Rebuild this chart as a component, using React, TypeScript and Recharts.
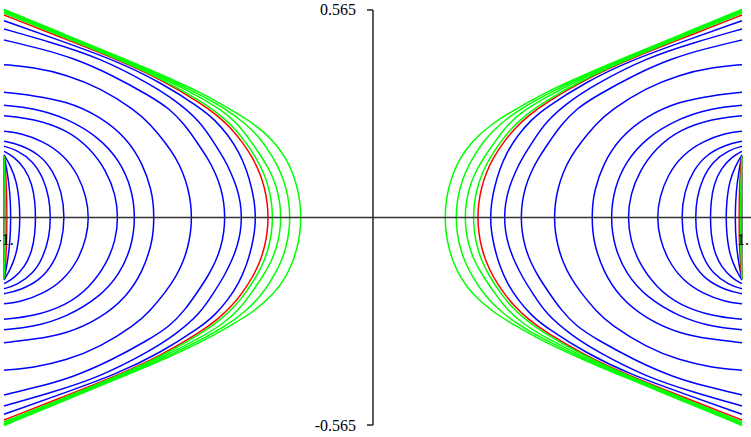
import React from "react";
import { LineChart, Line, XAxis, YAxis, ReferenceLine } from "recharts";

type P = [number, number];

// Each array: upper-left quarter of a curve, from the left edge (x = -1) down to its vertex on y = 0.
const greenOuter4: P[] = [[-1, 0.5663], [-0.8482, 0.5037], [-0.6938, 0.4397], [-0.5772, 0.3907], [-0.4688, 0.3417], [-0.3875, 0.2954], [-0.3225, 0.2559], [-0.2683, 0.2083], [-0.236, 0.162], [-0.2173, 0.1212], [-0.2046, 0.0803], [-0.1973, 0.0395], [-0.1951, 0]];
const greenOuter3: P[] = [[-1, 0.5636], [-0.8482, 0.501], [-0.6938, 0.437], [-0.5772, 0.388], [-0.4688, 0.3349], [-0.4011, 0.2968], [-0.3469, 0.2573], [-0.3035, 0.2137], [-0.2696, 0.162], [-0.2491, 0.1212], [-0.2352, 0.0803], [-0.2274, 0.0395], [-0.2249, 0]];
const greenOuter2: P[] = [[-1, 0.5609], [-0.8482, 0.4982], [-0.6938, 0.4348], [-0.5772, 0.3838], [-0.4688, 0.3281], [-0.4092, 0.2913], [-0.3659, 0.2546], [-0.3333, 0.211], [-0.2995, 0.162], [-0.2759, 0.1212], [-0.2607, 0.0803], [-0.252, 0.0395], [-0.2493, 0]];
const greenOuter1: P[] = [[-1, 0.5568], [-0.8482, 0.4955], [-0.6938, 0.4326], [-0.5772, 0.3798], [-0.4688, 0.3185], [-0.41, 0.2763], [-0.3729, 0.2409], [-0.3436, 0.2028], [-0.3165, 0.162], [-0.2957, 0.1212], [-0.2821, 0.0803], [-0.2743, 0.0395], [-0.2718, 0]];
const greenInner: P[] = [[-1, 0.1674], [-0.9978, 0.1157], [-0.9962, 0.0476], [-0.9957, 0]];

const redOuter: P[] = [[-1, 0.5513], [-0.8482, 0.4914], [-0.6938, 0.4307], [-0.5772, 0.3771], [-0.4688, 0.3131], [-0.4201, 0.2763], [-0.3821, 0.2409], [-0.3523, 0.2028], [-0.3257, 0.162], [-0.3065, 0.1212], [-0.2935, 0.0803], [-0.2862, 0.0395], [-0.2837, 0]];
const redInner: P[] = [[-1, 0.1674], [-0.9959, 0.1293], [-0.993, 0.0749], [-0.9919, 0]];

const blue1: P[] = [[-1, 0.5358], [-0.8482, 0.4819], [-0.6938, 0.426], [-0.5772, 0.3689], [-0.4688, 0.2995], [-0.4282, 0.2655], [-0.393, 0.2246], [-0.3631, 0.1783], [-0.3423, 0.1293], [-0.3285, 0.0803], [-0.3209, 0.0395], [-0.3179, 0]];
const blue2: P[] = [[-1, 0.5132], [-0.8753, 0.4778], [-0.7398, 0.4343], [-0.6043, 0.3635], [-0.5366, 0.3199], [-0.4688, 0.2627], [-0.4304, 0.2028], [-0.4046, 0.162], [-0.3843, 0.1212], [-0.3683, 0.0803], [-0.3588, 0.0395], [-0.3558, 0]];
const blue3: P[] = [[-1, 0.4833], [-0.9024, 0.4601], [-0.813, 0.4343], [-0.7127, 0.3907], [-0.6043, 0.3308], [-0.5501, 0.2954], [-0.5095, 0.2518], [-0.4756, 0.2028], [-0.4485, 0.162], [-0.4268, 0.1212], [-0.4119, 0.0803], [-0.4038, 0.0395], [-0.4011, 0]];
const blue4: P[] = [[-1, 0.416], [-0.9206, 0.4089], [-0.8301, 0.3888], [-0.7398, 0.3526], [-0.645, 0.2927], [-0.6043, 0.2546], [-0.5618, 0.2028], [-0.5341, 0.162], [-0.5146, 0.1212], [-0.5014, 0.0803], [-0.4938, 0.0395], [-0.4913, 0]];
const blue5: P[] = [[-1, 0.3409], [-0.9214, 0.3322], [-0.8301, 0.3164], [-0.7398, 0.2755], [-0.6675, 0.2164], [-0.6225, 0.1438], [-0.5997, 0.0713], [-0.5954, 0.0368], [-0.5935, 0]];
const blue6: P[] = [[-1, 0.3055], [-0.9206, 0.2981], [-0.8301, 0.2709], [-0.7398, 0.2164], [-0.6856, 0.153], [-0.6539, 0.0803], [-0.6431, 0]];
const blue7: P[] = [[-1, 0.2772], [-0.9206, 0.269], [-0.8301, 0.239], [-0.7669, 0.1892], [-0.7217, 0.1258], [-0.6973, 0.0621], [-0.6902, 0]];
const blue8: P[] = [[-1, 0.2347], [-0.9566, 0.2301], [-0.8935, 0.2075], [-0.8393, 0.171], [-0.7986, 0.1165], [-0.7759, 0.0531], [-0.7696, 0]];
const blue9: P[] = [[-1, 0.2075], [-0.9566, 0.1982], [-0.9024, 0.171], [-0.8664, 0.1258], [-0.8436, 0.0713], [-0.8347, 0]];
const blue10: P[] = [[-1, 0.1938], [-0.9656, 0.1846], [-0.9206, 0.153], [-0.8935, 0.1075], [-0.8772, 0.0531], [-0.8734, 0]];
const blue11: P[] = [[-1, 0.1802], [-0.9748, 0.1666], [-0.9431, 0.1348], [-0.9233, 0.0893], [-0.916, 0.0441], [-0.9141, 0]];
const blue12: P[] = [[-1, 0.1702], [-0.9837, 0.1438], [-0.9656, 0.0986], [-0.9585, 0.0441], [-0.9566, 0]];
const blue13: P[] = [[-1, 0.1674], [-0.9927, 0.1348], [-0.9837, 0.0713], [-0.981, 0]];
const edgeDark: P[] = [[-1, 0.1674], [-1, 0.08], [-1, 0]];

const blueCurves = [blue1, blue2, blue3, blue4, blue5, blue6, blue7, blue8, blue9, blue10, blue11, blue12, blue13];
const redCurves = [redOuter, redInner];
const greenCurves = [greenOuter1, greenOuter2, greenOuter3, greenOuter4, greenInner];
const darkCurves = [edgeDark];

const yTickValues = [0.565, -0.565];
const yTickLabels = ["0.565", "-0.565"];
const xTickValues = [-1, 1];
const xTickLabels = ["-1.", "1."];

const X_DOMAIN: [number, number] = [-1.0108, 1.0244];
const Y_DOMAIN: [number, number] = [-0.5976, 0.5921];
const TICK_LEN = 0.0163;

type Pt = { x: number; y: number };

function leftCurve(q: P[]): Pt[] {
  const upper = q.map(([x, y]) => ({ x, y }));
  const lower = q
    .slice(0, -1)
    .reverse()
    .map(([x, y]) => ({ x, y: -y }));
  return [...upper, ...lower];
}
function rightCurve(q: P[]): Pt[] {
  return leftCurve(q).map((p) => ({ x: -p.x, y: p.y }));
}

const FONT = "'Liberation Serif', 'Times New Roman', Times, serif";

function boxOf(props: any) {
  const vb = props.viewBox || {};
  const x = vb.x ?? Math.min(vb.x1 ?? 0, vb.x2 ?? 0);
  const y = vb.y ?? Math.min(vb.y1 ?? 0, vb.y2 ?? 0);
  const w = vb.width ?? Math.abs((vb.x2 ?? 0) - (vb.x1 ?? 0));
  const h = vb.height ?? Math.abs((vb.y2 ?? 0) - (vb.y1 ?? 0));
  return { x, y, w, h };
}

const yLabel = (text: string) => (props: any) => {
  const { x, y, h } = boxOf(props);
  return (
    <text
      x={x - 11}
      y={y + h / 2}
      textAnchor="end"
      dominantBaseline="central"
      style={{ fontFamily: FONT, fontSize: 16, fill: "#000" }}
    >
      {text}
    </text>
  );
};

const xLabel = (text: string) => (props: any) => {
  const { x, y, w } = boxOf(props);
  return (
    <text
      x={x + w / 2 + 1}
      y={y + 22.5}
      textAnchor="middle"
      dominantBaseline="central"
      style={{ fontFamily: FONT, fontSize: 16, fill: "#000" }}
    >
      {text}
    </text>
  );
};

export default function App() {
  const series: { key: string; data: Pt[]; color: string }[] = [];
  const add = (arr: P[][], color: string, name: string) => {
    arr.forEach((q, i) => {
      series.push({ key: `${name}-L-${i}`, data: leftCurve(q), color });
      series.push({ key: `${name}-R-${i}`, data: rightCurve(q), color });
    });
  };
  add(darkCurves, "#555555", "dark");
  add(blueCurves, "#0000ff", "blue");
  add(redCurves, "#ff0000", "red");
  add(greenCurves, "#00ff00", "green");

  return (
    <div
      style={{
        position: "absolute",
        left: 0,
        top: 0,
        width: 751,
        height: 437,
        background: "#fff",
        fontFamily: FONT,
      }}
    >
      <LineChart width={751} height={437} margin={{ top: 0, right: 0, bottom: 0, left: 0 }}>
        <XAxis type="number" dataKey="x" domain={X_DOMAIN} hide allowDataOverflow />
        <YAxis type="number" dataKey="y" domain={Y_DOMAIN} hide allowDataOverflow />
        {series.map((s) => (
          <Line
            key={s.key}
            data={s.data}
            dataKey="y"
            type="basis"
            stroke={s.color}
            strokeWidth={1.5}
            dot={false}
            activeDot={false}
            isAnimationActive={false}
          />
        ))}
        <ReferenceLine y={0} stroke="#333" strokeWidth={1.6} />
        <ReferenceLine
          segment={[
            { x: 0, y: yTickValues[1] },
            { x: 0, y: yTickValues[0] },
          ]}
          stroke="#333"
          strokeWidth={1.6}
        />
        {yTickValues.map((v, i) => (
          <ReferenceLine
            key={`yt${i}`}
            segment={[
              { x: -TICK_LEN, y: v },
              { x: 0, y: v },
            ]}
            stroke="#333"
            strokeWidth={1.6}
            label={yLabel(yTickLabels[i])}
          />
        ))}
        {xTickValues.map((v, i) => (
          <ReferenceLine
            key={`xt${i}`}
            segment={[
              { x: v, y: 0 },
              { x: v, y: -0.001 },
            ]}
            stroke="#333"
            strokeOpacity={0}
            label={xLabel(xTickLabels[i])}
          />
        ))}
      </LineChart>
    </div>
  );
}
